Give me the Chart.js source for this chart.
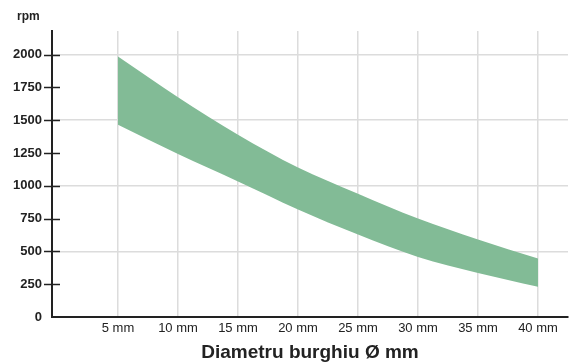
<!DOCTYPE html>
<html>
<head>
<meta charset="utf-8">
<script src="https://cdn.jsdelivr.net/npm/chart.js@4"></script>
<style>
  html, body { margin: 0; padding: 0; background: #fff; }
</style>
</head>
<body>
<canvas id="rpmChart" width="571" height="364"></canvas>
<script>
var diameters = [5, 10, 15, 20, 25, 30, 35, 40];
var rpmMax = [1985, 1675, 1390, 1140, 940, 750, 590, 445];
var rpmMin = [1465, 1242, 1033, 820, 628, 458, 336, 231];
var yTicks = [0, 250, 500, 750, 1000, 1250, 1500, 1750, 2000];
var yGridValues = [500, 1000, 1500, 2000];

var bandColor = 'rgb(130, 187, 150)';
var inkColor = '#222';
var fontFamily = '"Liberation Sans", Arial, sans-serif';

function toPoints(values) {
  var pts = [];
  for (var i = 0; i < diameters.length; i++) {
    pts.push({ x: diameters[i], y: values[i] });
  }
  return pts;
}

// small cross-shaped ticks over the y axis line, plus the "rpm" unit label
var axisExtras = {
  id: 'axisExtras',
  afterDraw: function (chart) {
    var ctx = chart.ctx;
    var y = chart.scales.y;
    ctx.save();
    ctx.strokeStyle = inkColor;
    ctx.lineWidth = 1.5;
    y.ticks.forEach(function (t) {
      if (t.value === 0) return;
      var py = Math.round(y.getPixelForValue(t.value)) + 0.5;
      ctx.beginPath();
      ctx.moveTo(y.right - 8, py);
      ctx.lineTo(y.right + 8, py);
      ctx.stroke();
    });
    ctx.fillStyle = inkColor;
    ctx.font = 'bold 12px ' + fontFamily;
    ctx.textAlign = 'left';
    ctx.textBaseline = 'middle';
    ctx.fillText('rpm', 17, 17);
    ctx.restore();
  }
};

var config = {
  type: 'line',
  data: {
    datasets: [
      {
        label: 'max',
        data: toPoints(rpmMax),
        borderWidth: 0,
        pointRadius: 0,
        cubicInterpolationMode: 'monotone',
        backgroundColor: bandColor,
        fill: '+1'
      },
      {
        label: 'min',
        data: toPoints(rpmMin),
        borderWidth: 0,
        pointRadius: 0,
        cubicInterpolationMode: 'monotone',
        backgroundColor: bandColor,
        fill: false
      }
    ]
  },
  options: {
    responsive: false,
    animation: false,
    layout: {
      padding: { top: 31, right: 3, left: 0, bottom: 0 }
    },
    plugins: {
      legend: { display: false },
      tooltip: { enabled: false }
    },
    scales: {
      x: {
        type: 'linear',
        min: -0.5,
        max: 42.5,
        afterBuildTicks: function (scale) {
          scale.ticks = diameters.map(function (v) { return { value: v }; });
        },
        afterFit: function (scale) { scale.height = 47; },
        grid: {
          color: '#dcdcdc',
          lineWidth: 1.5,
          drawTicks: false
        },
        border: { color: inkColor, width: 2 },
        ticks: {
          padding: 4,
          color: inkColor,
          font: { family: fontFamily, size: 13 },
          callback: function (v) { return v + ' mm'; }
        },
        title: {
          display: true,
          text: 'Diametru burghiu Ø mm',
          color: inkColor,
          padding: { top: 4, bottom: 0 },
          font: { family: fontFamily, size: 19, weight: 'bold' }
        }
      },
      y: {
        min: 0,
        max: 2180,
        afterBuildTicks: function (scale) {
          scale.ticks = yTicks.map(function (v) { return { value: v }; });
        },
        afterFit: function (scale) { scale.width = 52; },
        grid: {
          lineWidth: 1.5,
          drawTicks: false,
          color: function (c) {
            return yGridValues.indexOf(c.tick.value) >= 0 ? '#dcdcdc' : 'rgba(0,0,0,0)';
          }
        },
        border: { color: inkColor, width: 2 },
        ticks: {
          padding: 10,
          color: inkColor,
          font: { family: fontFamily, size: 13, weight: 'bold' },
          callback: function (v) { return String(v); }
        }
      }
    }
  },
  plugins: [axisExtras]
};

var rpmChart = new Chart(document.getElementById('rpmChart').getContext('2d'), config);
</script>
</body>
</html>
